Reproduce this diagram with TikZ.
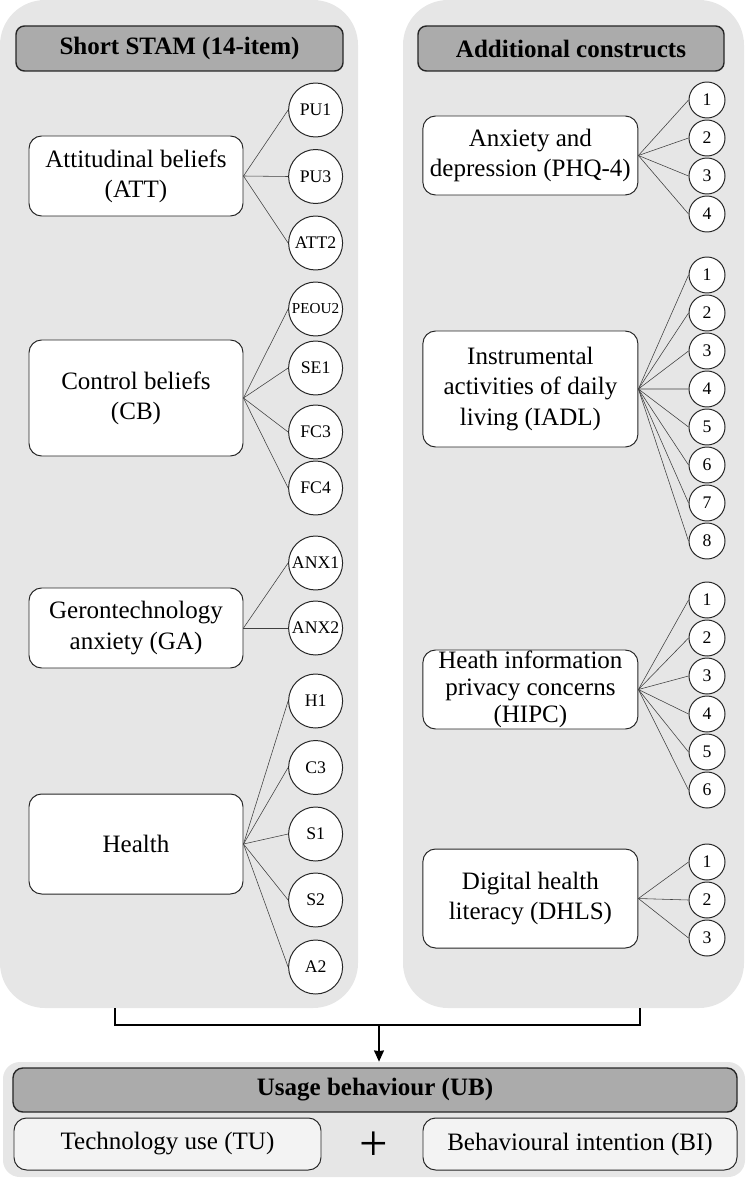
\documentclass[tikz,border=0pt]{standalone}
\usepackage{fontspec}
\setmainfont{Liberation Serif}
\usetikzlibrary{arrows.meta, positioning}
\definecolor{panelgray}{HTML}{E6E6E6}
\definecolor{headgray}{HTML}{ABABAB}
\definecolor{itemgray}{HTML}{F3F3F3}
\tikzset{
  panel/.style={fill=panelgray, rounded corners=32pt, inner sep=0pt},
  headbox/.style={draw=black!85, fill=headgray, rounded corners=6pt, line width=1pt, minimum height=1.125cm, font=\fontsize{17.8}{20}\selectfont\bfseries},
  construct/.style={draw=black!85, fill=white, rounded corners=9pt, line width=0.7pt, minimum width=5.35cm, align=center, inner sep=2pt, font=\fontsize{17.8}{21.5}\selectfont},
  itemlg/.style={draw=black!85, fill=white, circle, minimum size=1.35cm, inner sep=0pt, line width=0.7pt, font=\fontsize{12.6}{14}\selectfont},
  itemsm/.style={draw=black!85, fill=white, circle, minimum size=0.9cm, inner sep=0pt, line width=0.7pt, font=\fontsize{12.6}{14}\selectfont},
  load/.style={draw=black!75, line width=0.4pt},
  joinline/.style={draw=black, line width=1.4pt},
  outcome/.style={draw=black!85, fill=itemgray, rounded corners=9pt, line width=0.7pt, minimum height=1.3cm, font=\fontsize{17.8}{20}\selectfont},
}

\begin{document}
\begin{tikzpicture}
    \useasboundingbox (0,0) rectangle (18.7,-29.45);

    % the two groups
    \node[panel, minimum width=8.95cm, minimum height=25.2cm] (stam) at (4.475,-12.6) {};
    \node[panel, minimum width=8.525cm, minimum height=25.2cm] (addc) at (14.3375,-12.6) {};
    \node[headbox, minimum width=8.175cm] (stamhead) at (4.4875,-1.2125) {Short STAM (14-item)};
    \node[headbox, minimum width=7.65cm] (addchead) at (14.275,-1.2125) {Additional constructs};

    % Short STAM constructs
    \node[construct, minimum height=2cm] (att) at (3.4,-4.4) {Attitudinal beliefs\\(ATT)};
    \node[construct, minimum height=2.9cm] (cb) at (3.4,-9.95) {Control beliefs\\(CB)};
    \node[construct, minimum height=2cm] (ga) at (3.4,-15.7) {Gerontechnology\\anxiety (GA)};
    \node[construct, minimum height=2.5cm] (hlth) at (3.4,-21.1) {Health};

    \node[itemlg] (pu1) at (7.89,-2.75) {PU1};
    \node[itemlg] (pu3) at (7.89,-4.4125) {PU3};
    \node[itemlg] (att2) at (7.89,-6.075) {ATT2};
    \node[itemlg, font=\fontsize{10.8}{12}\selectfont] (peou2) at (7.89,-7.725) {PEOU2};
    \node[itemlg] (se1) at (7.89,-9.2) {SE1};
    \node[itemlg] (fc3) at (7.89,-10.8) {FC3};
    \node[itemlg] (fc4) at (7.89,-12.2) {FC4};
    \node[itemlg] (anx1) at (7.89,-14.075) {ANX1};
    \node[itemlg] (anx2) at (7.89,-15.7) {ANX2};
    \node[itemlg] (h1) at (7.89,-17.525) {H1};
    \node[itemlg] (c3) at (7.89,-19.1875) {C3};
    \node[itemlg] (s1) at (7.89,-20.85) {S1};
    \node[itemlg] (s2) at (7.89,-22.5) {S2};
    \node[itemlg] (a2) at (7.89,-24.175) {A2};

    \foreach \c in {pu1,pu3,att2} \draw[load] (att.east) -- (\c.west);
    \foreach \c in {peou2,se1,fc3,fc4} \draw[load] (cb.east) -- (\c.west);
    \foreach \c in {anx1,anx2} \draw[load] (ga.east) -- (\c.west);
    \foreach \c in {h1,c3,s1,s2,a2} \draw[load] (hlth.east) -- (\c.west);

    % additional constructs
    \node[construct, minimum width=5.375cm, minimum height=1.975cm] (phq) at (13.26,-3.8875) {Anxiety and\\depression (PHQ-4)};
    \node[construct, minimum width=5.375cm, minimum height=2.9cm] (iadl) at (13.26,-9.725) {Instrumental\\activities of daily\\living (IADL)};
    \node[construct, minimum width=5.375cm, minimum height=1.975cm, inner ysep=0pt, font=\fontsize{17.8}{19.2}\selectfont] (hipc) at (13.26,-17.2375) {Heath information\\privacy concerns\\(HIPC)};
    \node[construct, minimum width=5.375cm, minimum height=2.475cm] (dhls) at (13.26,-22.4625) {Digital health\\literacy (DHLS)};

    \foreach \i in {1,...,4} {
        \node[itemsm] (phq\i) at (17.675,{-2.5-0.95*(\i-1)}) {\i};
        \draw[load] (phq.east) -- (phq\i.west);
    }
    \foreach \i in {1,...,8} {
        \node[itemsm] (iadl\i) at (17.675,{-6.875-0.95*(\i-1)}) {\i};
        \draw[load] (iadl.east) -- (iadl\i.west);
    }
    \foreach \i in {1,...,6} {
        \node[itemsm] (hipc\i) at (17.675,{-15-0.95*(\i-1)}) {\i};
        \draw[load] (hipc.east) -- (hipc\i.west);
    }
    \foreach \i in {1,...,3} {
        \node[itemsm] (dhls\i) at (17.675,{-21.55-0.95*(\i-1)}) {\i};
        \draw[load] (dhls.east) -- (dhls\i.west);
    }

    % outcome
    \node[panel, rounded corners=12pt, minimum width=18.55cm, minimum height=2.875cm] (ubpanel) at (9.35,-27.9875) {};
    \node[headbox, minimum width=18.1cm, minimum height=1.1cm, rounded corners=7pt] (ubhead) at (9.375,-27.25) {Usage behaviour (UB)};
    \node[outcome, minimum width=7.675cm] (tu) at (4.1875,-28.6) {Technology use (TU)};
    \node[outcome, minimum width=7.85cm] (bi) at (14.5,-28.6) {Behavioural intention (BI)};
    \node[font=\fontsize{36}{36}\selectfont] (plus) at (9.35,-28.66) {+};

    \coordinate (lft) at (2.875,-25.2);
    \coordinate (rgt) at (16,-25.2);
    \coordinate (mid) at (9.475,-25.625);
    \draw[joinline] (lft) -- ++(0,-0.425) -| (rgt);
    \draw[joinline, -{Stealth[length=8pt, width=7pt, inset=0.5pt]}] (mid) -- (ubpanel.north -| mid);
\end{tikzpicture}
\end{document}
